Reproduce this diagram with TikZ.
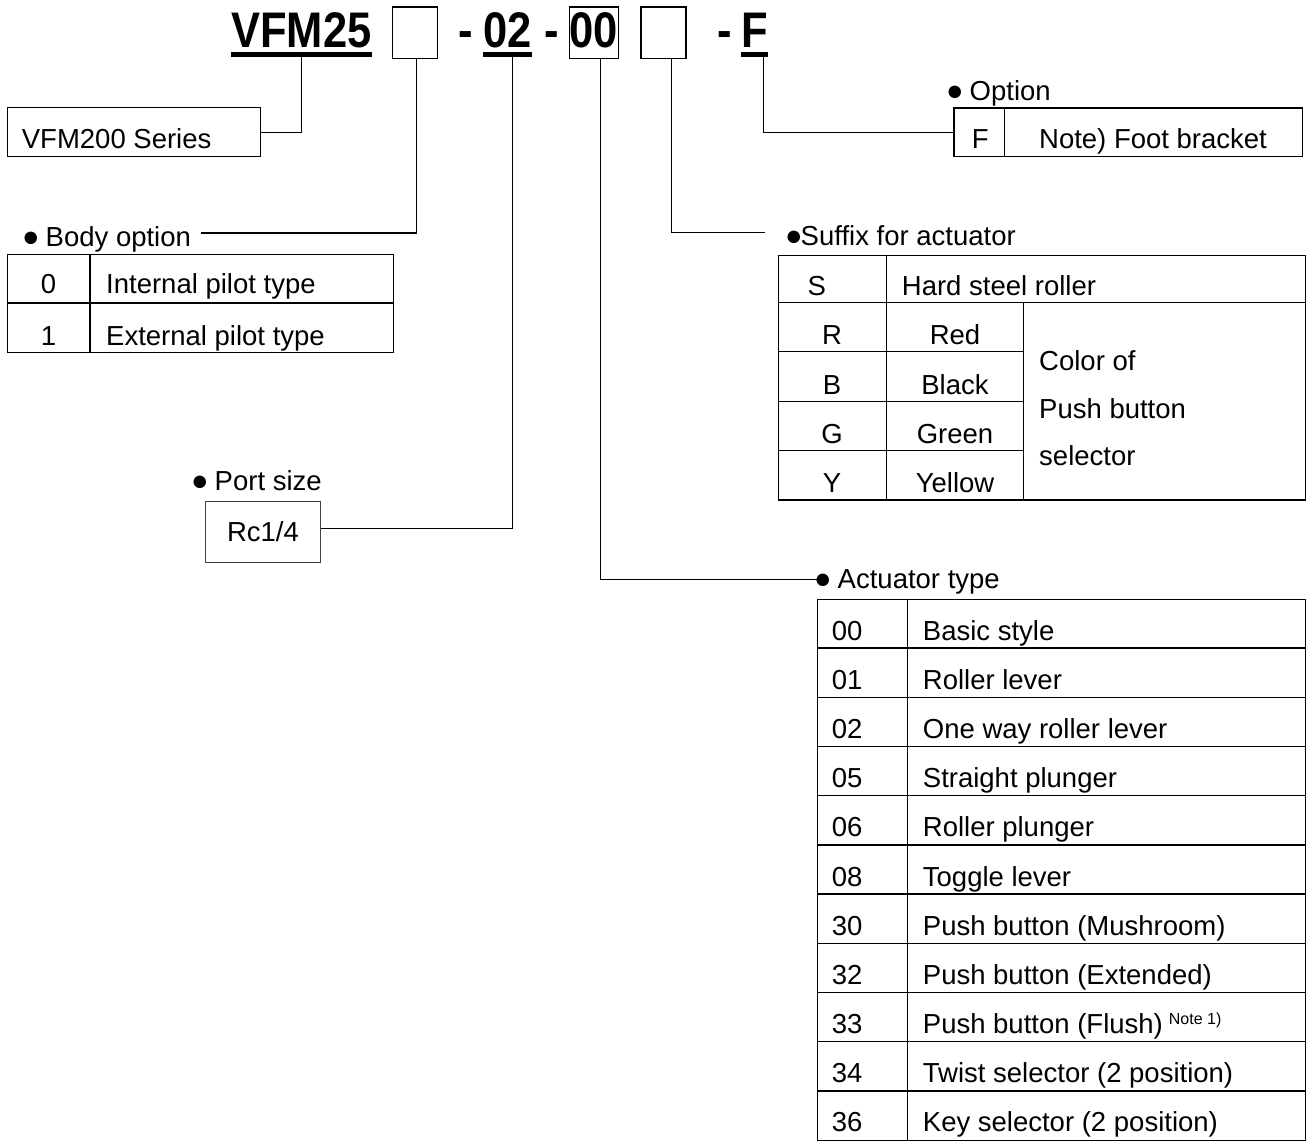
\documentclass[tikz,border=0pt]{standalone}
\usepackage{fontspec}
\setmainfont{Liberation Sans}
\newfontfamily\hdrfont{Liberation Sans}[FakeStretch=0.87]
\usetikzlibrary{positioning}

\newcommand\bul{{\fontsize{29}{29}\selectfont ●}}

\begin{document}
\begin{tikzpicture}[x=1pt, y=-1pt, line join=miter,
  hdr/.style={font=\hdrfont\bfseries\fontsize{50}{56}\selectfont, inner sep=0pt},
  txt/.style={font=\fontsize{27.5}{32}\selectfont, inner sep=0pt},
  slot/.style={draw, line width=1.6pt, inner sep=0pt, minimum height=51.6pt},
  frame/.style={draw, line width=1.4pt, inner sep=0pt, anchor=north west},
  rule/.style={line width=1.4pt},
  conn/.style={line width=1.1pt},
  uline/.style={line width=5pt}]
\useasboundingbox (0,0) rectangle (1308,1143);

% model code
\node[hdr, anchor=base west] (series) at (231,47) {VFM25};
\node[slot, minimum width=45pt] (bodyslot) at (414.8,32.5) {};
\node[hdr, anchor=base west] (dash1) at (458.5,47) {-};
\node[hdr, anchor=base west] (port) at (483,47) {02};
\node[hdr, anchor=base west] (dash2) at (544,47) {-};
\node[slot, hdr, minimum width=49pt, text height=36pt, text depth=7pt] (actslot) at (593.8,32.5) {00};
\node[slot, minimum width=45pt] (sufslot) at (663.2,32.5) {};
\node[hdr, anchor=base west] (dash3) at (717,47) {-};
\node[hdr, anchor=base west] (optcode) at (741,47) {F};
\foreach \n in {series,port,optcode}
  \draw[uline] ([yshift=-7.2pt]\n.base west) -- ([yshift=-7.2pt]\n.base east);

% series
\node[frame, minimum width=253pt, minimum height=49pt] (serbox) at (7,107) {};
\node[txt, anchor=base west] (sertxt) at (21.7,148) {VFM200 Series};
\draw[conn] ([yshift=-10pt]series.base) |- (serbox.east);

% body option
\node[txt, anchor=base west] (bodylbl) at (22,246) {\bul\hspace{6pt}Body option};
\draw[conn] ([xshift=1.5pt]bodyslot.south) |- ([xshift=10pt,yshift=13pt]bodylbl.base east);
\node[frame, minimum width=386pt, minimum height=98pt] (bodytab) at (7,254) {};
\draw[rule] (7,303) -- (393,303) (90,254) -- (90,352);
\foreach \c/\d/\y in {0/Internal pilot type/293, 1/External pilot type/345} {
  \node[txt, anchor=base] (bc\c) at (48.5,\y) {\c};
  \node[txt, anchor=base west] (bd\c) at (106,\y) {\d};
}

% port size
\node[txt, anchor=base west] (portlbl) at (191,490.7) {\bul\hspace{6pt}Port size};
\node[txt, draw=black!75, line width=0.9pt, anchor=north west, minimum width=115pt, minimum height=61pt] (portbox) at (205,500.7) {Rc1/4};
\draw[conn] ([xshift=5.5pt,yshift=-10pt]port.base) |- ([yshift=3.5pt]portbox.east);

% option
\node[txt, anchor=base west] (optlbl) at (946,100) {\bul\hspace{6pt}Option};
\node[frame, minimum width=348.4pt, minimum height=48.7pt] (optbox) at (953.3,107.3) {};
\draw[rule] (1004.3,107.3) -- (1004.3,156);
\node[txt, anchor=base west] (optc) at (971.7,148.3) {F};
\node[txt, anchor=base] (optd) at (1153,148.3) {Note) Foot bracket};
\draw[conn] ([xshift=9pt,yshift=-10pt]optcode.base) |- (optbox.west);

% suffix for actuator
\node[txt, anchor=base west] (suflbl) at (785,245) {\bul\hspace{-2pt}Suffix for actuator};
\draw[conn] ([xshift=8.5pt]sufslot.south) |- ([xshift=-20pt,yshift=12.7pt]suflbl.base west);
\node[frame, minimum width=527.3pt, minimum height=244.3pt] (suftab) at (777.7,255) {};
\draw[rule] (777.7,302.3) -- (1305,302.3) (886.7,255) -- (886.7,499.3)
  (1023.3,302.3) -- (1023.3,499.3);
\foreach \y in {351.7,401.7,450.7} \draw[rule] (777.7,\y) -- (1023.3,\y);
\node[txt, anchor=base] (sc0) at (816.7,295) {S};
\node[txt, anchor=base west] (sd0) at (901.7,295) {Hard steel roller};
\foreach \c/\d/\y in {R/Red/344, B/Black/394, G/Green/443.3, Y/Yellow/492.7} {
  \node[txt, anchor=base] (sc\c) at (832,\y) {\c};
  \node[txt, anchor=base] (sd\c) at (955,\y) {\d};
}
\foreach \t/\y [count=\i] in {Color of/370, Push button/418.3, selector/465}
  \node[txt, anchor=base west] (sn\i) at (1039,\y) {\t};

% actuator type
\node[txt, anchor=base west] (actlbl) at (814,588.3) {\bul\hspace{6pt}Actuator type};
\draw[conn] ([xshift=6.5pt]actslot.south) |- ([xshift=4pt,yshift=9pt]actlbl.base west);
\node[frame, minimum width=488.5pt, minimum height=541pt] (acttab) at (816.5,599) {};
\draw[rule] (907.2,599) -- (907.2,1140);
\foreach \i in {1,...,10} \draw[rule] (816.5,{599+49.18*\i}) -- (1305,{599+49.18*\i});
\foreach \c/\d [count=\i] in {00/Basic style, 01/Roller lever, 02/One way roller lever,
    05/Straight plunger, 06/Roller plunger, 08/Toggle lever, 30/Push button (Mushroom),
    32/Push button (Extended),
    33/{Push button (Flush)\hspace{6pt}\raisebox{9.5pt}{\fontsize{16}{16}\selectfont Note 1)}},
    34/Twist selector (2 position), 36/Key selector (2 position)} {
  \node[txt, anchor=base west] (ac\i) at (831.7,{599+49.18*\i-8}) {\c};
  \node[txt, anchor=base west] (ad\i) at (922.7,{599+49.18*\i-8}) {\d};
}
\end{tikzpicture}
\end{document}
